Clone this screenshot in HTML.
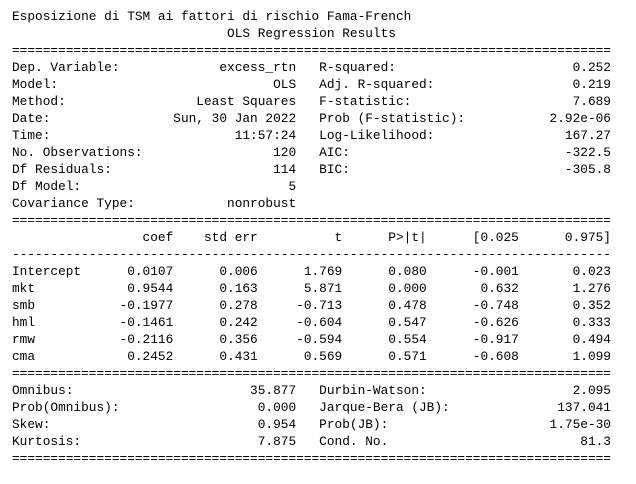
<!DOCTYPE html>
<html>
<head>
<meta charset="utf-8">
<style>
html,body{margin:0;padding:0;background:#fff;}
body{width:636px;height:484px;overflow:hidden;}
#out{position:absolute;left:12px;top:8px;font-family:"Liberation Mono",monospace;font-size:12.8px;line-height:17px;color:#000;white-space:pre;}
#out div{height:17px;}
</style>
</head>
<body>
<div id="out"><div>Esposizione di TSM ai fattori di rischio Fama-French</div><div>                            OLS Regression Results                            </div><div>==============================================================================</div><div>Dep. Variable:             excess_rtn   R-squared:                       0.252</div><div>Model:                            OLS   Adj. R-squared:                  0.219</div><div>Method:                 Least Squares   F-statistic:                     7.689</div><div>Date:                Sun, 30 Jan 2022   Prob (F-statistic):           2.92e-06</div><div>Time:                        11:57:24   Log-Likelihood:                 167.27</div><div>No. Observations:                 120   AIC:                            -322.5</div><div>Df Residuals:                     114   BIC:                            -305.8</div><div>Df Model:                           5                                         </div><div>Covariance Type:            nonrobust                                         </div><div>==============================================================================</div><div>                 coef    std err          t      P>|t|      [0.025      0.975]</div><div>------------------------------------------------------------------------------</div><div>Intercept      0.0107      0.006      1.769      0.080      -0.001       0.023</div><div>mkt            0.9544      0.163      5.871      0.000       0.632       1.276</div><div>smb           -0.1977      0.278     -0.713      0.478      -0.748       0.352</div><div>hml           -0.1461      0.242     -0.604      0.547      -0.626       0.333</div><div>rmw           -0.2116      0.356     -0.594      0.554      -0.917       0.494</div><div>cma            0.2452      0.431      0.569      0.571      -0.608       1.099</div><div>==============================================================================</div><div>Omnibus:                       35.877   Durbin-Watson:                   2.095</div><div>Prob(Omnibus):                  0.000   Jarque-Bera (JB):              137.041</div><div>Skew:                           0.954   Prob(JB):                     1.75e-30</div><div>Kurtosis:                       7.875   Cond. No.                         81.3</div><div>==============================================================================</div></div>
</body>
</html>
